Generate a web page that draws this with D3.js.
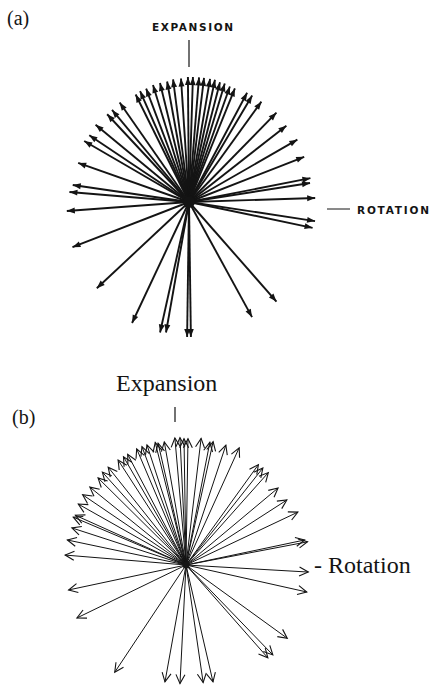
<!DOCTYPE html>
<html>
<head>
<meta charset="utf-8">
<script src="https://cdn.jsdelivr.net/npm/d3@7"></script>
<style>
	body { margin: 0; background: #fff; }
	svg { display: block; }
</style>
</head>
<body>
<div id="chart"></div>
<script>
// directions in degrees (0 = rotation axis, 90 = expansion axis) and relative lengths
var anglesA = [116.4, 113.8, 110.7, 107.1, 103.7, 100.3, 97.4, 93.7, 90.5, 88.2,
	85.4, 83.1, 80.3, 78.0, 75.5, 73.2, 70.5, 68.0, 62.0, 59.3,
	54.2, 45.6, 38.1, 29.9, 21.4, 11.1, 8.9, 1.8, -8.6, -11.8,
	-48.7, -61.3, -89.2, -90.8, -100, -102.5, -115.2, -136.9, -158.8, -175.8,
	175.2, 171.7, 160.6, 149.8, 146.2, 140.4, 133.0, 129.9, 124.9];
var lengthsA = [0.96, 0.97, 0.97, 0.98, 0.98, 0.98, 0.99, 0.99, 1.00, 1.00,
	1.00, 1.00, 1.00, 1.00, 0.99, 0.99, 0.98, 0.98, 0.99, 0.99,
	0.99, 1.00, 0.99, 1.00, 0.99, 0.99, 0.98, 1.01, 1.02, 1.01,
	1.06, 1.05, 1.08, 1.08, 1.06, 1.07, 1.07, 1.01, 1.00, 0.98,
	0.96, 0.94, 0.94, 0.97, 0.96, 0.97, 0.96, 0.96, 0.97];

var anglesB = [95.0, 92.7, 90.9, 89.1, 83.2, 79.0, 77.6, 71.6, 65.6, 54.2,
	51.6, 48.3, 39.9, 32.8, 25.3, 11.9, 10.8, -3.3, -12.6, -35.9,
	-46.0, -48.6, -77.0, -81.7, -92.9, -100.2, -123.6, -154.1, -168.0, 175.3,
	168.1, 162.0, 157.0, 155.8, 150.5, 145.8, 141.0, 135.3, 132.0, 128.5,
	122.9, 120.0, 117.8, 113.0, 110.4, 108.0, 104.1, 102.9, 100.0];
var lengthsB = [1.02, 1.02, 1.01, 1.01, 1.02, 1.00, 1.01, 1.01, 1.03, 0.99,
	0.99, 0.99, 0.96, 0.96, 0.99, 0.97, 0.99, 0.98, 0.99, 1.00,
	1.00, 0.99, 0.96, 0.95, 0.95, 0.95, 1.03, 0.97, 0.96, 0.97,
	0.97, 0.96, 0.98, 0.97, 0.99, 1.00, 0.99, 0.99, 1.00, 1.00,
	1.00, 1.00, 1.00, 1.01, 1.01, 1.01, 1.01, 1.00, 1.00];

var width = 434,
	height = 697,
	ink = "#141414";

var svg = d3.select("#chart").append("svg")
	.attr("width", width)
	.attr("height", height);

var rScale = d3.scaleLinear().domain([0, 1]).range([0, 125]);
var aScale = d3.scaleLinear().domain([0, 360]).range([0, 2 * Math.PI]);

var defs = svg.append("defs");

// solid heads for (a)
defs.append("marker")
	.attr("id", "headA")
	.attr("markerUnits", "userSpaceOnUse")
	.attr("viewBox", "-9 -4 10 8")
	.attr("markerWidth", 10)
	.attr("markerHeight", 8)
	.attr("refX", 0)
	.attr("refY", 0)
	.attr("orient", "auto")
	.append("path")
	.attr("d", "M-8,-3L0,0L-8,3Z")
	.attr("fill", ink);

// open heads for (b)
defs.append("marker")
	.attr("id", "headB")
	.attr("markerUnits", "userSpaceOnUse")
	.attr("viewBox", "-11 -6 13 12")
	.attr("markerWidth", 13)
	.attr("markerHeight", 12)
	.attr("refX", 0)
	.attr("refY", 0)
	.attr("orient", "auto")
	.append("path")
	.attr("d", "M-9,-4.5L0,0L-9,4.5")
	.attr("fill", "none")
	.attr("stroke", ink)
	.attr("stroke-width", 1.1);

function drawStar(cx, cy, angles, lengths, marker, strokeW) {
	var g = svg.append("g").attr("transform", "translate(" + cx + "," + cy + ")");
	var data = angles.map(function(a, i) { return { a: a, r: lengths[i] }; });
	g.selectAll(".vec")
		.data(data)
		.enter()
		.append("line")
		.attr("class", "vec")
		.attr("x1", 0)
		.attr("y1", 0)
		.attr("x2", function(d) { return rScale(d.r) * Math.cos(aScale(d.a)); })
		.attr("y2", function(d) { return -rScale(d.r) * Math.sin(aScale(d.a)); })
		.attr("stroke", ink)
		.attr("stroke-width", strokeW)
		.attr("marker-end", "url(#" + marker + ")");
	return g;
}

// (a)
var ga = drawStar(189, 202, anglesA, lengthsA, "headA", 1.9);
ga.append("circle").attr("r", 6).attr("fill", ink);

svg.append("text")
	.attr("x", 7).attr("y", 25)
	.style("font-family", "'Liberation Serif', serif")
	.style("font-size", "20px")
	.attr("fill", ink)
	.text("(a)");

svg.append("text")
	.attr("x", 152).attr("y", 31)
	.attr("textLength", 81)
	.attr("lengthAdjust", "spacing")
	.style("font-family", "'DejaVu Sans', sans-serif")
	.style("font-size", "10.5px")
	.style("font-weight", "bold")
	.attr("fill", ink)
	.text("EXPANSION");

svg.append("line")
	.attr("x1", 189).attr("x2", 189)
	.attr("y1", 40).attr("y2", 67)
	.attr("stroke", ink).attr("stroke-width", 1.2);

svg.append("line")
	.attr("x1", 327).attr("x2", 350)
	.attr("y1", 209).attr("y2", 209)
	.attr("stroke", ink).attr("stroke-width", 1);

svg.append("text")
	.attr("x", 357).attr("y", 213.5)
	.attr("textLength", 72)
	.attr("lengthAdjust", "spacing")
	.style("font-family", "'DejaVu Sans', sans-serif")
	.style("font-size", "10.5px")
	.style("font-weight", "bold")
	.attr("fill", ink)
	.text("ROTATION");

// (b)
var gb = drawStar(186, 565, anglesB, lengthsB, "headB", 1);
gb.append("circle").attr("r", 3.5).attr("fill", ink);

svg.append("text")
	.attr("x", 12).attr("y", 424)
	.style("font-family", "'Liberation Serif', serif")
	.style("font-size", "20px")
	.attr("fill", ink)
	.text("(b)");

svg.append("text")
	.attr("x", 116).attr("y", 391)
	.style("font-family", "'Liberation Serif', serif")
	.style("font-size", "24px")
	.attr("fill", ink)
	.text("Expansion");

svg.append("line")
	.attr("x1", 175).attr("x2", 175)
	.attr("y1", 407).attr("y2", 422)
	.attr("stroke", ink).attr("stroke-width", 1.2);

svg.append("text")
	.attr("x", 314).attr("y", 573)
	.style("font-family", "'Liberation Serif', serif")
	.style("font-size", "24px")
	.attr("fill", ink)
	.text("- Rotation");
</script>
</body>
</html>
